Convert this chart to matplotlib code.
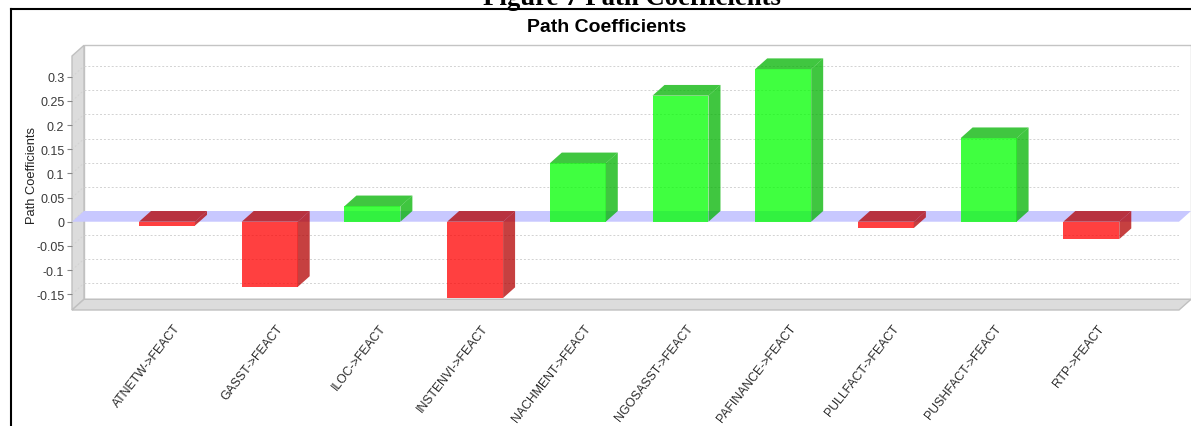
import numpy as np
import matplotlib
matplotlib.use("Agg")
from matplotlib import pyplot as plt
from matplotlib.patches import Polygon, Rectangle
from matplotlib.lines import Line2D
from matplotlib.transforms import ScaledTranslation, IdentityTransform

plt.rcParams['font.family'] = ['Liberation Sans', 'DejaVu Sans']

categories = ["ATNETW->FEACT", "GASST->FEACT", "ILOC->FEACT", "INSTENVI->FEACT",
              "NACHMENT->FEACT", "NGOSASST->FEACT", "PAFINANCE->FEACT",
              "PULLFACT->FEACT", "PUSHFACT->FEACT", "RTP->FEACT"]
coefficients = [-0.008, -0.135, 0.032, -0.158, 0.121, 0.261, 0.316, -0.013, 0.173, -0.036]
y_ticks = [-0.15, -0.1, -0.05, 0.0, 0.05, 0.1, 0.15, 0.2, 0.25, 0.3]

W, H, DPI = 1191, 427, 100
DX, DY = 12, 10.7  # 3d depth offset in pixels
bar_width = 0.545

fig = plt.figure(figsize=(W / DPI, H / DPI), dpi=DPI)
ax = fig.add_axes([72 / W, 116 / H, 1107 / W, 254 / H])
ax.set_xlim(-0.925, 9.854)
ax.set_ylim(-0.1828, 0.3431)
for s in ax.spines.values():
    s.set_visible(False)
ax.patch.set_visible(False)

depth = ScaledTranslation(DX / DPI, DY / DPI, fig.dpi_scale_trans)
ident = IdentityTransform()


def px(x, y):
    return ax.transData.transform((x, y))


def poly(pts, **kw):
    p = Polygon(pts, closed=True, transform=ident, clip_on=False, **kw)
    ax.add_artist(p)
    return p


x0, x1 = ax.get_xlim()
y0, y1 = ax.get_ylim()
d = np.array([DX, DY])

# walls
ax.add_patch(Rectangle((0, 0), 1, 1, transform=ax.transAxes + depth, facecolor='white',
                       edgecolor='#c4c4c4', lw=1, zorder=0.5, clip_on=False))
poly([px(x0, y0), px(x0, y1), px(x0, y1) + d, px(x0, y0) + d],
     facecolor='#dcdcdc', edgecolor='#c0c0c0', lw=1, zorder=0.6)
poly([px(x0, y0), px(x1, y0), px(x1, y0) + d, px(x0, y0) + d],
     facecolor='#dcdcdc', edgecolor='#c0c0c0', lw=1, zorder=0.6)

# gridlines on the back wall, plus the diagonals on the left wall
for t in y_ticks:
    a, b = px(x0, t) + d, px(x1, t) + d
    ax.add_artist(Line2D([a[0], b[0]], [a[1], b[1]], transform=ident, color='#d2d2d2',
                         lw=0.7, ls=(0, (2, 2)), zorder=1))
    c = px(x0, t)
    ax.add_artist(Line2D([c[0], a[0]], [c[1], a[1]], transform=ident, color='#d2d2d2',
                         lw=0.7, ls=(0, (2, 2)), zorder=0.7))

# zero plane band
poly([px(x0, 0), px(x1, 0), px(x1, 0) + d, px(x0, 0) + d],
     facecolor='#c8c8ff', edgecolor='none', zorder=1.5)

# 3d bars
for i, v in enumerate(coefficients):
    base = (1.0, 0.0, 0.0) if v < 0 else (0.0, 1.0, 0.0)
    dark = tuple(c * 0.7 for c in base)
    lo, hi = min(0, v), max(0, v)
    l, r = i - bar_width / 2, i + bar_width / 2
    ax.bar(i, v, width=bar_width, color=base, alpha=0.75, lw=0, zorder=3)
    poly([px(l, hi), px(r, hi), px(r, hi) + d, px(l, hi) + d],
         facecolor=dark, alpha=0.75, edgecolor='none', zorder=3)
    poly([px(r, lo), px(r, hi), px(r, hi) + d, px(r, lo) + d],
         facecolor=dark, alpha=0.75, edgecolor='none', zorder=3)

# axes ticks
ax.set_yticks(y_ticks)
ax.set_yticklabels([f"{t:g}" for t in y_ticks])
ax.tick_params(axis='y', length=3.5, width=0.8, color='#888888', pad=2,
               labelsize=9, labelcolor='#3a3a3a')
ax.set_xticks(range(len(categories)))
ax.set_xticklabels(categories, rotation=52, ha='right', va='top', rotation_mode='anchor')
ax.tick_params(axis='x', length=0, pad=8.5, labelsize=8.8, labelcolor='#2a2a2a')
shift = ScaledTranslation(6 / DPI, 0, fig.dpi_scale_trans)
for lab in ax.get_xticklabels():
    lab.set_transform(lab.get_transform() + shift)

ax.set_ylabel("Path Coefficients", fontsize=9.3, color='#222222')
ax.yaxis.set_label_coords(-0.031, 0.535)

# titles and page frame
fig.text(607 / W, 1 - 27 / H, "Path Coefficients", ha='center', va='center',
         fontsize=14, fontweight='bold')
fig.text(632 / W, 1 - 5 / H, "Figure 7 Path Coefficients", ha='center', va='baseline',
         fontsize=19.3, fontweight='bold', family=['Liberation Serif', 'DejaVu Serif'])
fig.add_artist(Line2D([10.5 / W, 1], [1 - 9.5 / H, 1 - 9.5 / H], color='black', lw=1.5))
fig.add_artist(Line2D([10.5 / W, 10.5 / W], [0, 1 - 9.5 / H], color='black', lw=1.5))

fig.savefig("out.png", dpi=DPI)
